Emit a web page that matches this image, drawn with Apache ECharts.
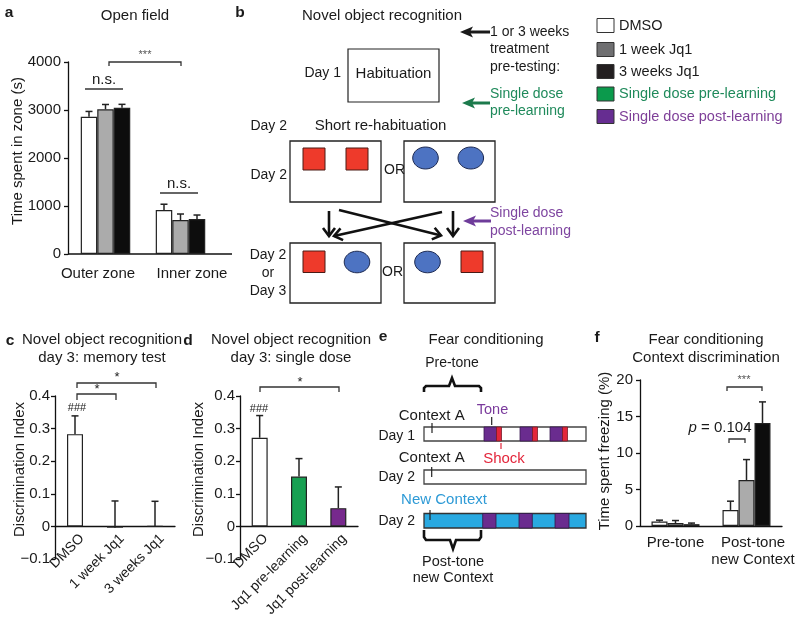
<!DOCTYPE html>
<html><head><meta charset="utf-8">
<script src="https://cdn.jsdelivr.net/npm/echarts@6/dist/echarts.min.js"></script>
<style>html,body{margin:0;padding:0;background:#fff}#c{width:800px;height:620px}</style>
</head><body><div id="c"></div><script>
// ---------- data ----------
const zonesA = ['Outer zone', 'Inner zone'];
const openDMSO = [2860, 917];
const openDMSOErr = [110, 120];
const open1wk = [3015, 708];
const open1wkErr = [100, 125];
const open3wk = [3048, 729];
const open3wkErr = [70, 83];
const ticksA = [0, 1000, 2000, 3000, 4000];

const groupsC = ['DMSO', '1 week Jq1', '3 weeks Jq1'];
const memVals = [0.283, -0.004, 0.001];
const memErr = [0.056, 0.082, 0.076];

const groupsD = ['DMSO', 'Jq1 pre-learning', 'Jq1 post-learning'];
const singleVals = [0.272, 0.153, 0.056];
const singleErr = [0.068, 0.055, 0.065];
const ticksCD = [-0.1, 0, 0.1, 0.2, 0.3, 0.4];

const phasesF = ['Pre-tone', 'Post-tone\nnew Context'];
const fzDMSO = [0.6, 2.2];
const fzDMSOErr = [0.2, 1.2];
const fz1wk = [0.4, 6.3];
const fz1wkErr = [0.35, 2.8];
const fz3wk = [0.25, 14.1];
const fz3wkErr = [0.15, 2.9];
const ticksF = [0, 5, 10, 15, 20];

const legendNames = ['DMSO', '1 week Jq1', '3 weeks Jq1', 'Single dose pre-learning', 'Single dose post-learning'];

// ---------- styles ----------
const FF = '"Liberation Sans", Arial, Helvetica, sans-serif';
const INK = '#1a1a1a';
const WHITE = '#ffffff', GRAY = '#ababab', BLACK = '#0d0d0d';
const GREEN = '#17a052', PURPLE = '#77298d';

// ---------- graphic helpers ----------
const G = [];
function txt(x, y, text, o) { G.push({type:'text', x:x, y:y, silent:true, style:Object.assign({text:text, fill:INK, fontFamily:FF, fontSize:15, align:'center', verticalAlign:'middle'}, o || {})}); }
function ln(x1, y1, x2, y2, c, w) { G.push({type:'line', silent:true, shape:{x1:x1, y1:y1, x2:x2, y2:y2}, style:{stroke:c || INK, lineWidth:w || 1.3}}); }
function pl(pts, c, w) { G.push({type:'polyline', silent:true, shape:{points:pts}, style:{stroke:c || INK, lineWidth:w || 1.3, fill:null}}); }
function rc(x, y, w, h, fill, stroke, lw) { G.push({type:'rect', silent:true, shape:{x:x, y:y, width:w, height:h}, style:{fill:fill, stroke:stroke, lineWidth:lw == null ? 1.2 : lw}}); }
function el(cx, cy, rx, ry, fill, stroke) { G.push({type:'ellipse', silent:true, shape:{cx:cx, cy:cy, rx:rx, ry:ry}, style:{fill:fill, stroke:stroke, lineWidth:1}}); }
function arrowLeft(x1, y, xt, c) {
  ln(x1, y, xt + 9, y, c, 3);
  G.push({type:'polygon', silent:true, shape:{points:[[xt, y], [xt + 13, y - 5.5], [xt + 10, y], [xt + 13, y + 5.5]]}, style:{fill:c}});
}
function arrowOpen(x1, y1, x2, y2) {
  ln(x1, y1, x2, y2, '#111', 2.6);
  const a = Math.atan2(y2 - y1, x2 - x1), L = 8, W = 6;
  const bx = x2 - L * Math.cos(a), by = y2 - L * Math.sin(a), px = -Math.sin(a) * W, py = Math.cos(a) * W;
  pl([[bx + px, by + py], [x2, y2], [bx - px, by - py]], '#111', 2.6);
}
function br(x1, x2, y, d1, d2) { pl([[x1, y + d1], [x1, y], [x2, y], [x2, y + d2]], '#333', 1.3); }

// panel letters
[['a', 9, 13], ['b', 240, 13], ['c', 10, 341], ['d', 188, 341], ['e', 383, 337], ['f', 597, 338]].forEach(function (l) {
  txt(l[1], l[2], l[0], {fontWeight:'bold', fontSize:15.5});
});

// ---- panel a annotations ----
txt(135, 16, 'Open field');
ln(68, 254, 232, 254, '#111', 1.3);
ln(85, 89, 123, 89, '#333', 1.3); txt(104, 80, 'n.s.');
ln(160, 193, 198, 193, '#333', 1.3); txt(179, 184, 'n.s.');
br(109, 181, 62, 4, 4); txt(145, 55, '***', {fontSize:11, fill:'#555'});

// ---- panel b diagram ----
txt(382, 16, 'Novel object recognition');
rc(348, 49, 91, 53, '#fff', '#222', 1.2);
txt(393.5, 74, 'Habituation');
txt(341, 73, 'Day 1', {align:'right', fontSize:14});
txt(380.5, 126, 'Short re-habituation');
txt(287, 126, 'Day 2', {align:'right', fontSize:14});
rc(290, 141, 91, 61, '#fff', '#222', 1.3);
rc(404, 141, 91, 61, '#fff', '#222', 1.3);
rc(303, 148, 22, 22, '#ee3a2b', '#4a1a15', 1);
rc(346, 148, 22, 22, '#ee3a2b', '#4a1a15', 1);
el(425.5, 158, 12.8, 11, '#4d73c2', '#1d2a52');
el(470.8, 158, 12.8, 11, '#4d73c2', '#1d2a52');
txt(394.5, 170, 'OR', {fontSize:14});
txt(287, 175, 'Day 2', {align:'right', fontSize:14});
arrowOpen(329, 211, 329, 236);
arrowOpen(453, 211, 453, 236);
arrowOpen(339, 210, 441, 235.5);
arrowOpen(442, 212, 334, 236);
rc(290, 243, 91, 60, '#fff', '#222', 1.3);
rc(404, 243, 91, 60, '#fff', '#222', 1.3);
rc(303, 251, 22, 21.5, '#ee3a2b', '#4a1a15', 1);
el(357, 262, 12.8, 10.8, '#4d73c2', '#1d2a52');
el(427.5, 262, 12.8, 10.8, '#4d73c2', '#1d2a52');
rc(461, 251, 22, 21.5, '#ee3a2b', '#4a1a15', 1);
txt(392.5, 272, 'OR', {fontSize:14});
txt(268, 255, 'Day 2', {fontSize:14});
txt(268, 273, 'or', {fontSize:14});
txt(268, 291, 'Day 3', {fontSize:14});
arrowLeft(490, 32, 460, '#1a1a1a');
txt(490, 32, '1 or 3 weeks', {align:'left', fontSize:14});
txt(490, 49.5, 'treatment', {align:'left', fontSize:14});
txt(490, 67, 'pre-testing:', {align:'left', fontSize:14});
arrowLeft(490, 103, 462, '#1c7a4c');
txt(490, 94, 'Single dose', {align:'left', fontSize:14, fill:'#1f8a5b'});
txt(490, 111.5, 'pre-learning', {align:'left', fontSize:14, fill:'#1f8a5b'});
arrowLeft(491, 221, 463, '#6e3c9a');
txt(490, 213, 'Single dose', {align:'left', fontSize:14, fill:'#7e45a0'});
txt(490, 231, 'post-learning', {align:'left', fontSize:14, fill:'#7e45a0'});

// legend
const legendFill = ['#ffffff', '#6f6f71', '#231f20', '#0b9a4c', '#662d91'];
const legendText = ['#1a1a1a', '#1a1a1a', '#1a1a1a', '#1f8a5b', '#7e3f98'];
const legendY = [25.5, 49.5, 71.5, 94, 116.5];
legendNames.forEach(function (n, i) {
  rc(597, legendY[i] - 7, 17, 14, legendFill[i], '#333', 1);
  txt(619, legendY[i], n, {align:'left', fontSize:14.5, fill:legendText[i]});
});

// ---- panel c / d annotations ----
txt(102, 340, 'Novel object recognition');
txt(102, 358, 'day 3: memory test');
br(77, 156, 383, 5, 5); txt(117, 377, '*', {fontSize:13});
br(77, 116, 394, 6, 6); txt(97, 389, '*', {fontSize:13});
txt(77, 407.5, '###', {fontSize:11});
txt(291, 340, 'Novel object recognition');
txt(291, 358, 'day 3: single dose');
br(260, 339, 387, 5, 5); txt(300, 382, '*', {fontSize:13});
txt(259, 409, '###', {fontSize:11});

// ---- panel e diagram ----
txt(486, 340, 'Fear conditioning');
txt(452, 363, 'Pre-tone', {fontSize:14});
pl([[424, 392], [424, 388], [426, 386], [449, 386], [452, 378], [455, 386], [479, 386], [481, 388], [481, 392]], '#111', 2.6);
txt(431.7, 416, 'Context A');
txt(492.5, 410, 'Tone', {fontSize:14.5, fill:'#7a3a9c'});
txt(415, 436, 'Day 1', {align:'right', fontSize:14});
rc(424, 427, 162, 14, '#fff', '#444', 1.3);
[[484, 496.5], [520, 532.5], [550, 562.5]].forEach(function (s) { rc(s[0], 427, s[1] - s[0], 14, '#6a2c8f', '#3a1a50', 0.8); });
[[496.5, 501.5], [532.5, 537.5], [562.5, 567.5]].forEach(function (s) { rc(s[0], 427, s[1] - s[0], 14, '#e3263b', '#7a1a2a', 0.8); });
ln(432, 423, 432, 433, '#222', 1.2);
ln(491.7, 417, 491.7, 425, '#222', 1.2);
ln(501, 443, 501, 449, '#e3263b', 1.2);
txt(504, 458.5, 'Shock', {fill:'#e3263b'});
txt(431.7, 458, 'Context A');
txt(415, 477, 'Day 2', {align:'right', fontSize:14});
rc(424, 470, 162, 14, '#fff', '#444', 1.3);
ln(431.7, 467, 431.7, 477, '#222', 1.2);
txt(444, 500, 'New Context', {fill:'#2d9ad6'});
txt(415, 521, 'Day 2', {align:'right', fontSize:14});
rc(424, 513.5, 162, 14.5, '#29a9e1', '#333', 1.3);
[[482.7, 496], [519, 532.3], [555, 569]].forEach(function (s) { rc(s[0], 513.5, s[1] - s[0], 14.5, '#6a2c8f', '#2d1a45', 0.8); });
ln(430, 510, 430, 520, '#222', 1.2);
pl([[424, 530], [424, 537], [426, 540], [450, 540], [453, 549], [456, 540], [479, 540], [481, 537], [481, 530]], '#111', 2.6);
txt(453, 562, 'Post-tone', {fontSize:14.5});
txt(453, 578, 'new Context', {fontSize:14.5});

// ---- panel f annotations ----
txt(706, 340, 'Fear conditioning');
txt(706, 358, 'Context discrimination');
br(727, 762, 387, 4, 4); txt(744, 380, '***', {fontSize:11, fill:'#555'});
br(729, 745, 439, 4, 4);
txt(720, 428, '{i|p} = 0.104', {rich:{i:{fontStyle:'italic', fontFamily:FF, fontSize:15, fill:INK}}});

// ---------- axes ----------
const axLine = {color:'#111', width:1.3};
function fmtInt(v) { return String(Math.round(v)); }
function fmtCD(v) { const r = Math.round(v * 10) / 10; return r < 0 ? '\u2212' + Math.abs(r).toFixed(1) : (r === 0 ? '0' : r.toFixed(1)); }
function yAx(gi, ticks, name, gap, margin, fmt, namePad) {
  return {type:'value', gridIndex:gi, min:ticks[0], max:ticks[ticks.length - 1], interval:ticks[1] - ticks[0],
    name:name, nameLocation:'middle', nameGap:gap, nameRotate:90, nameMoveOverlap:false,
    nameTextStyle:{fontFamily:FF, fontSize:15, color:INK, padding:[0, 0, 0, namePad || 0]},
    axisLine:{show:true, lineStyle:axLine}, axisTick:{show:true, length:4, lineStyle:axLine},
    axisLabel:{fontFamily:FF, fontSize:15, color:INK, margin:margin, formatter:fmt},
    splitLine:{show:false}};
}
function xAx(gi, data, lab, showLine) {
  return {type:'category', gridIndex:gi, data:data,
    axisLine:{show:showLine, onZero:true, lineStyle:axLine}, axisTick:{show:false},
    axisLabel:Object.assign({fontFamily:FF, fontSize:15, color:INK, interval:0}, lab), splitLine:{show:false}};
}

function errSeries(gi, vals, errs, k, n, bw) {
  return {type:'custom', xAxisIndex:gi, yAxisIndex:gi, z:5, silent:true,
    data:vals.map(function (v, i) { return [i, v, errs[i]]; }),
    renderItem:function (params, api) {
      const i = api.value(0), v = api.value(1), e = api.value(2);
      const p0 = api.coord([i, v]), p1 = api.coord([i, v + e]);
      const x = p0[0] + (k - (n - 1) / 2) * bw;
      return {type:'group', children:[
        {type:'line', shape:{x1:x, y1:p0[1], x2:x, y2:p1[1]}, style:{stroke:'#222', lineWidth:1.5}},
        {type:'line', shape:{x1:x - 3.5, y1:p1[1], x2:x + 3.5, y2:p1[1]}, style:{stroke:'#222', lineWidth:1.5}}]};
    }};
}
function barS(gi, vals, colors, bw) {
  return {type:'bar', xAxisIndex:gi, yAxisIndex:gi, barWidth:bw, barGap:'0%', silent:true,
    data:vals.map(function (v, i) { return {value:v, itemStyle:{color:Array.isArray(colors) ? colors[i] : colors}}; }),
    itemStyle:{borderColor:'#222', borderWidth:1.2}};
}

const option = {
  animation:false,
  backgroundColor:'#fff',
  grid:[
    {left:68, top:62, width:150, height:192, outerBoundsMode:'none'},
    {left:55, top:396, width:120, height:163, outerBoundsMode:'none'},
    {left:240, top:396, width:118, height:163, outerBoundsMode:'none'},
    {left:640, top:380, width:142, height:146, outerBoundsMode:'none'}
  ],
  xAxis:[
    xAx(0, [{value:zonesA[0], textStyle:{padding:[0, 15, 0, 0]}}, {value:zonesA[1], textStyle:{padding:[0, 0, 0, 23]}}], {margin:12}, false),
    xAx(1, groupsC, {show:false}, true),
    xAx(2, groupsD, {show:false}, true),
    xAx(3, [phasesF[0], {value:phasesF[1], textStyle:{padding:[0, 0, 0, 13]}}], {margin:8, lineHeight:17}, true)
  ],
  yAxis:[
    yAx(0, ticksA, 'Time spent in zone (s)', 43, 7, fmtInt, 14),
    yAx(1, ticksCD, 'Discrimination Index', 27.5, 5, fmtCD, 16),
    yAx(2, ticksCD, 'Discrimination Index', 33.5, 5, fmtCD, 16),
    yAx(3, ticksF, 'Time spent freezing (%)', 27.5, 7, fmtInt, 4)
  ],
  graphic:{elements:G},
  series:[
    barS(0, openDMSO, WHITE, 16.5), barS(0, open1wk, GRAY, 16.5), barS(0, open3wk, BLACK, 16.5),
    errSeries(0, openDMSO, openDMSOErr, 0, 3, 16.5), errSeries(0, open1wk, open1wkErr, 1, 3, 16.5), errSeries(0, open3wk, open3wkErr, 2, 3, 16.5),
    barS(1, memVals, WHITE, 16), errSeries(1, memVals, memErr, 0, 1, 16),
    barS(2, singleVals, [WHITE, GREEN, PURPLE], 16), errSeries(2, singleVals, singleErr, 0, 1, 16),
    barS(3, fzDMSO, WHITE, 16), barS(3, fz1wk, GRAY, 16), barS(3, fz3wk, BLACK, 16),
    errSeries(3, fzDMSO, fzDMSOErr, 0, 3, 16), errSeries(3, fz1wk, fz1wkErr, 1, 3, 16), errSeries(3, fz3wk, fz3wkErr, 2, 3, 16)
  ]
};
const chart = echarts.init(document.getElementById('c'), null, {renderer:'canvas'});
chart.setOption(option);

// rotated category labels placed from the category axes' own pixel positions
function rotLabels(axisIdx, cats, dx, dy) {
  const y0 = chart.convertToPixel({yAxisIndex:axisIdx}, 0);
  cats.forEach(function (c) {
    const x = chart.convertToPixel({xAxisIndex:axisIdx}, c);
    G.push({type:'text', x:x + dx, y:y0 + dy, rotation:Math.PI / 4, silent:true,
      style:{text:c, fill:INK, fontFamily:FF, fontSize:14, align:'right', verticalAlign:'middle'}});
  });
}
rotLabels(1, groupsC, 7, 10);
rotLabels(2, groupsD, 6, 10);
chart.setOption({graphic:{elements:G}});
</script></body></html>
